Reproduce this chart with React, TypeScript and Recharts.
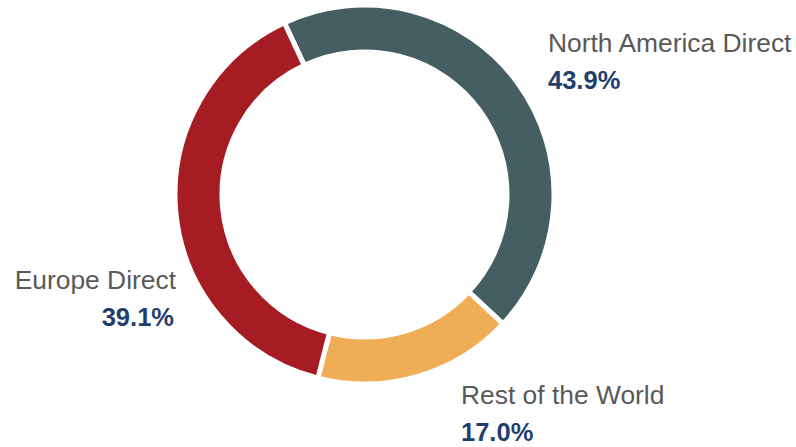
import { PieChart, Pie, Cell } from 'recharts';

const regions = ['North America Direct', 'Rest of the World', 'Europe Direct'];
const shares = [43.9, 17.0, 39.1];
const colors = ['#455E62', '#EFAD56', '#A51D23'];

const data = regions.map((name, i) => ({ name, value: shares[i] }));

const FONT = '"Liberation Sans", Arial, sans-serif';

// where each label block sits (text anchor point, baseline of first line)
const labelSpots = [
  { x: 548, y: 52, anchor: 'start' },
  { x: 461, y: 404, anchor: 'start' },
  { x: 176, y: 289, anchor: 'end' },
];

const renderLabel = (props: any) => {
  const spot = labelSpots[props.index];
  const v = props.value as number;
  return (
    <g>
      <text x={spot.x} y={spot.y} textAnchor={spot.anchor} fill="#595959" fontSize={26.4} fontFamily={FONT}>
        {props.name}
      </text>
      <text
        x={spot.x - (spot.anchor === 'end' ? 2 : 0)}
        y={spot.y + 37}
        textAnchor={spot.anchor}
        fill="#1F3F6E"
        fontSize={25.5}
        fontWeight="bold"
        fontFamily={FONT}
      >
        {v.toFixed(1) + '%'}
      </text>
    </g>
  );
};

export default function App() {
  return (
    <div style={{ position: 'absolute', left: 0, top: 0, fontFamily: FONT }}>
      <PieChart width={796} height={447} margin={{ top: 0, right: 0, bottom: 0, left: 0 }}>
        <Pie
          data={data}
          dataKey="value"
          nameKey="name"
          cx={364.5}
          cy={194.5}
          outerRadius={189.5}
          innerRadius={142.5}
          startAngle={115}
          endAngle={-245}
          stroke="#ffffff"
          strokeWidth={5}
          label={renderLabel}
          labelLine={false}
          isAnimationActive={false}
        >
          {data.map((d, i) => (
            <Cell key={d.name} fill={colors[i]} />
          ))}
        </Pie>
      </PieChart>
    </div>
  );
}
